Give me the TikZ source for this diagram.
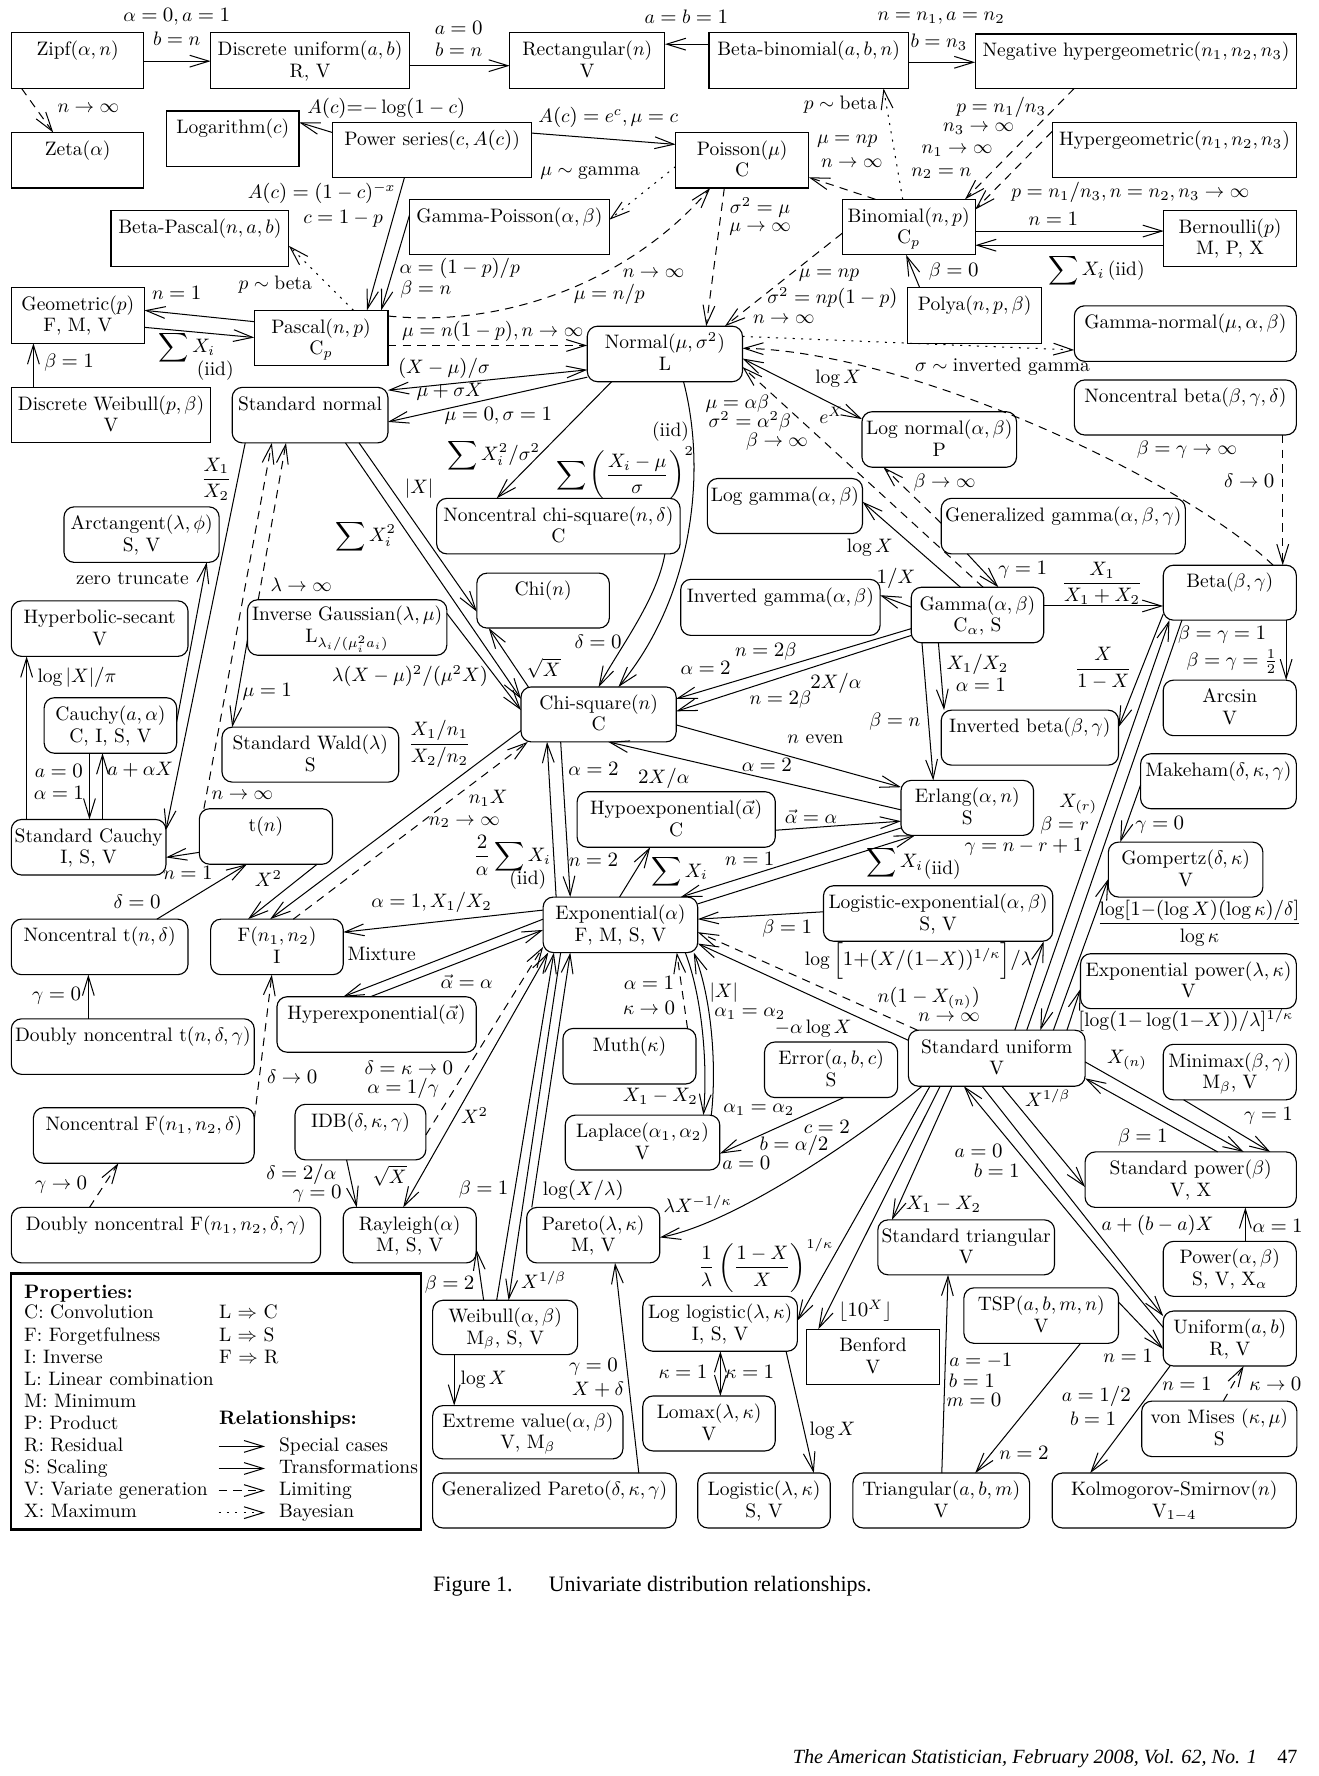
\documentclass[tikz,border=0pt]{standalone}
\usepackage{amsmath}
\usepackage{fontspec}
\setmainfont{lmroman10-regular.otf}[BoldFont=lmroman10-bold.otf,ItalicFont=lmroman10-italic.otf,Ligatures=TeX]
\newfontfamily\timesf{Liberation Serif}
\DeclareFontShape{OML}{cmm}{m}{it}{<-5.5>cmmi5<5.5-8>cmmi7<8->cmmi10}{\skewchar\font=127 }
\DeclareFontShape{OMS}{cmsy}{m}{n}{<-5.5>cmsy5<5.5-8>cmsy7<8->cmsy10}{\skewchar\font=48 }
\usetikzlibrary{arrows.meta,calc}
\newcommand\fsz{\fontsize{8.6}{9.5}\selectfont}
\newcommand\myT{\rule{0pt}{8pt}}
\newcommand\myB{\rule[-2.9pt]{0pt}{2.9pt}}
\newcommand\mybox[8]{\node[#2,anchor=north west,minimum width={(#5-#3)*0.5pt},minimum height={(#6-#4)*0.5pt}] (#1) at (#3,#4) {\myT #7\\\myB #8};}
\newcounter{labc}
\newcommand\mylab[3][]{\stepcounter{labc}\node[lbl,#1] (lab\arabic{labc}) at (#2) {#3};}
\begin{document}
\begin{tikzpicture}[x=0.5pt,y=-0.5pt,
  sq/.style={draw,line width=0.5pt,align=center,inner xsep=1pt,inner ysep=0pt,outer sep=0pt,font=\fsz},
  rd/.style={sq,rounded corners=4.5pt},
  lbl/.style={inner sep=0.5pt,font=\fsz},
  sc/.style={draw,line width=0.45pt,-{Straight Barb[length=8.5pt,width=5.2pt]}},
  dsc/.style={sc,{Straight Barb[length=8.5pt,width=5.2pt]}-{Straight Barb[length=8.5pt,width=5.2pt]}},
  lim/.style={sc,dash pattern=on 3.7pt off 2.8pt},
  bay/.style={sc,dash pattern=on 0.9pt off 2.8pt}]
\useasboundingbox (0,0) rectangle (1164,1568);
\fill[white] (0,0) rectangle (1164,1568);
% ---------------- boxes
\mybox{zipf}{sq}{10}{29}{127}{78}{Zipf($\alpha,n$)}{}
\mybox{du}{sq}{186}{29}{361.5}{78}{Discrete uniform($a,b$)}{R, V}
\mybox{rect}{sq}{450}{29}{587}{78}{Rectangular($n$)}{V}
\mybox{bbin}{sq}{626}{29}{802}{78}{Beta-binomial($a,b,n$)}{}
\mybox{nhyp}{sq}{861}{30}{1145}{78}{Negative hypergeometric($n_1,n_2,n_3$)}{}
\mybox{zeta}{sq}{10}{117}{127}{166}{Zeta($\alpha$)}{}
\mybox{loga}{sq}{147}{98}{264}{147}{Logarithm($c$)}{}
\mybox{pser}{sq}{293.5}{108}{469.5}{157}{Power series($c,A(c)$)}{}
\mybox{pois}{sq}{596.5}{117}{714}{166}{Poisson($\mu$)}{C}
\mybox{hyp}{sq}{929}{108}{1145}{157}{Hypergeometric($n_1,n_2,n_3$)}{}
\mybox{bpas}{sq}{98}{186}{255}{235}{Beta-Pascal($n,a,b$)}{}
\mybox{gpois}{sq}{361.5}{176}{538}{225}{Gamma-Poisson($\alpha,\beta$)}{}
\mybox{bin}{sq}{743.5}{176}{861}{225}{Binomial($n,p$)}{C$_p$}
\mybox{bern}{sq}{1027.5}{186}{1144.5}{235}{Bernoulli($p$)}{M, P, X}
\mybox{geom}{sq}{10}{254}{127.5}{303}{Geometric($p$)}{F, M, V}
\mybox{pasc}{sq}{224.5}{274}{342.5}{323}{Pascal($n,p$)}{C$_p$}
\mybox{polya}{sq}{801.5}{254}{919.5}{303}{Polya($n,p,\beta$)}{}
\mybox{dweib}{sq}{10}{342}{186}{391}{Discrete Weibull($p,\beta$)}{V}
\mybox{norm}{rd}{518.5}{288}{655.5}{337}{Normal($\mu,\sigma^2$)}{L}
\mybox{gnorm}{rd}{948.5}{270}{1144.5}{319}{Gamma-normal($\mu,\alpha,\beta$)}{}
\mybox{ncbeta}{rd}{948.5}{335.5}{1144.5}{384}{Noncentral beta($\beta,\gamma,\delta$)}{}
\mybox{snorm}{rd}{205}{342}{342.5}{391}{Standard normal}{}
\mybox{lnorm}{rd}{761}{363.5}{897.5}{412.5}{Log normal($\alpha,\beta$)}{P}
\mybox{ncchi}{rd}{385.5}{440}{600.5}{489}{Noncentral chi-square($n,\delta$)}{C}
\mybox{lgam}{rd}{624.5}{422.5}{761.5}{471}{Log gamma($\alpha,\beta$)}{}
\mybox{ggam}{rd}{831}{440}{1046.5}{489}{Generalized gamma($\alpha,\beta,\gamma$)}{}
\mybox{arct}{rd}{56.5}{447.5}{193.5}{496.5}{Arctangent($\lambda,\phi$)}{S, V}
\mybox{chi}{rd}{421}{506}{538}{554.5}{Chi($n$)}{}
\mybox{beta}{rd}{1027}{499}{1144.5}{547.5}{Beta($\beta,\gamma$)}{}
\mybox{igam}{rd}{601}{511.5}{777}{561}{Inverted gamma($\alpha,\beta$)}{}
\mybox{gam}{rd}{804.5}{518.5}{921.5}{567.5}{Gamma($\alpha,\beta$)}{C$_\alpha$, S}
\mybox{hsec}{rd}{10}{530.5}{166}{579.5}{Hyperbolic-secant}{V}
\mybox{igau}{rd}{218.5}{529.5}{394.5}{578.5}{Inverse Gaussian($\lambda,\mu$)}{L$_{\lambda_i/(\mu_i^2a_i)}$}
\mybox{arcs}{rd}{1027}{600.5}{1144.5}{649.5}{Arcsin}{V}
\mybox{chisq}{rd}{460}{606.5}{597}{655}{Chi-square($n$)}{C}
\mybox{cauchy}{rd}{39}{616}{156}{665}{Cauchy($a,\alpha$)}{C, I, S, V}
\mybox{ibeta}{rd}{831}{627}{987.5}{675.5}{Inverted beta($\beta,\gamma$)}{}
\mybox{swald}{rd}{196}{642}{352}{690.5}{Standard Wald($\lambda$)}{S}
\mybox{makeh}{rd}{1007}{665.5}{1144.5}{714}{Makeham($\delta,\kappa,\gamma$)}{}
\mybox{erlang}{rd}{795.5}{689}{912.5}{737.5}{Erlang($\alpha,n$)}{S}
\mybox{hypoexp}{rd}{509.5}{699}{684.5}{748}{Hypoexponential($\vec{\alpha}$)}{C}
\mybox{tdist}{rd}{176}{714}{293.5}{763}{t($n$)}{}
\mybox{scauchy}{rd}{10}{723.5}{146.5}{772.5}{Standard Cauchy}{I, S, V}
\mybox{gomp}{rd}{978.5}{743.5}{1115}{792}{Gompertz($\delta,\kappa$)}{V}
\mybox{logexp}{rd}{727}{782}{929.5}{831}{Logistic-exponential($\alpha,\beta$)}{S, V}
\mybox{expo}{rd}{479.5}{792}{616}{841}{Exponential($\alpha$)}{F, M, S, V}
\mybox{nct}{rd}{10}{811.5}{166}{860.5}{Noncentral t($n,\delta$)}{}
\mybox{fdist}{rd}{186}{811.5}{303}{860.5}{F($n_1,n_2$)}{I}
\mybox{expow}{rd}{954}{842}{1144.5}{890.5}{Exponential power($\lambda,\kappa$)}{V}
\mybox{hyperexp}{rd}{244.5}{880}{420.5}{929}{Hyperexponential($\vec{\alpha}$)}{}
\mybox{dnct}{rd}{10}{899.5}{224.5}{948.5}{Doubly noncentral t($n,\delta,\gamma$)}{}
\mybox{muth}{rd}{497}{908}{614.5}{957}{Muth($\kappa$)}{}
\mybox{sunif}{rd}{802}{909.5}{958}{959}{Standard uniform}{V}
\mybox{err}{rd}{675}{920}{792.5}{969}{Error($a,b,c$)}{S}
\mybox{minimax}{rd}{1027}{922}{1144.5}{971}{Minimax($\beta,\gamma$)}{M$_\beta$, V}
\mybox{idb}{rd}{260.5}{975}{376}{1024}{IDB($\delta,\kappa,\gamma$)}{}
\mybox{ncf}{rd}{29.5}{978}{224.5}{1027}{Noncentral F($n_1,n_2,\delta$)}{}
\mybox{lap}{rd}{499}{984.5}{635.5}{1033}{Laplace($\alpha_1,\alpha_2$)}{V}
\mybox{spow}{rd}{958}{1017}{1144.5}{1066}{Standard power($\beta$)}{V, X}
\mybox{dncf}{rd}{10}{1066}{283}{1115}{Doubly noncentral F($n_1,n_2,\delta,\gamma$)}{}
\mybox{rayl}{rd}{303}{1066}{420.5}{1115}{Rayleigh($\alpha$)}{M, S, V}
\mybox{pareto}{rd}{465}{1066}{582.5}{1115}{Pareto($\lambda,\kappa$)}{M, V}
\mybox{stri}{rd}{775}{1077}{931}{1125.5}{Standard triangular}{V}
\mybox{power}{rd}{1027}{1096}{1144.5}{1144.5}{Power($\alpha,\beta$)}{S, V, X$_\alpha$}
\mybox{tsp}{rd}{851}{1137}{987.5}{1186}{TSP($a,b,m,n$)}{V}
\mybox{llog}{rd}{567.5}{1144.5}{704}{1193}{Log logistic($\lambda,\kappa$)}{I, S, V}
\mybox{weib}{rd}{382}{1148}{510}{1196}{Weibull($\alpha,\beta$)}{M$_\beta$, S, V}
\mybox{unif}{rd}{1027}{1157.5}{1144.5}{1206}{Uniform($a,b$)}{R, V}
\mybox{benf}{sq}{712}{1173.5}{829.5}{1222.5}{Benford}{V}
\mybox{lomax}{rd}{567.5}{1232.5}{684.5}{1281}{Lomax($\lambda,\kappa$)}{V}
\mybox{vmises}{rd}{1008}{1237}{1145}{1286}{von Mises ($\kappa,\mu$)}{S}
\mybox{ev}{rd}{382}{1241}{550}{1288}{Extreme value($\alpha,\beta$)}{V, M$_\beta$}
\mybox{gpar}{rd}{382}{1300.5}{597}{1349}{Generalized Pareto($\delta,\kappa,\gamma$)}{}
\mybox{logis}{rd}{616}{1300.5}{733}{1349}{Logistic($\lambda,\kappa$)}{S, V}
\mybox{tri}{rd}{753}{1300.5}{909}{1349}{Triangular($a,b,m$)}{V}
\mybox{ks}{rd}{929}{1300.5}{1144.5}{1349}{Kolmogorov-Smirnov($n$)}{V$_{1-4}$}
% ---------------- connectors
\draw[sc] (zipf.east |- 0,54) -- (du.west |- 0,54);
\draw[lim] (zipf.south -| 19,0) -- (zeta.north -| 47,0);
\draw[sc] (du.east |- 0,58) -- (rect.west |- 0,58);
\draw[sc] (bbin.west |- 0,39) -- (rect.east |- 0,39);
\draw[sc] (bbin.east |- 0,55) -- (nhyp.west |- 0,55);
\draw[bay] (bin.north -| 797,0) -- (bbin.south -| 780,0);
\draw[sc] (pser.west |- 0,117) -- (loga.east |- 0,108);
\draw[sc] (pser.east |- 0,117.5) -- (pois.west |- 0,127.5);
\draw[sc] (pser.south -| 357,0) -- (pasc.north -| 324,0);
\draw[sc] (gpois.west |- 0,190) -- (pasc.north -| 336.5,0);
\draw[bay] (pois.west |- 0,147) -- (gpois.east |- 0,194);
\draw[lim] (bin.north -| 773,0) -- (pois.east |- 0,156.5);
\draw[lim] (pasc.east |- 0,279) .. controls (450,290) and (560,245) .. (pois.south -| 627,0);
\draw[lim] (pasc.east |- 0,305) -- (norm.west |- 0,305);
\draw[sc] (pasc.west |- 0,284) -- (geom.east |- 0,274);
\draw[sc] (geom.east |- 0,289) -- (pasc.west |- 0,298);
\draw[sc] (dweib.north -| 29.5,0) -- (geom.south -| 29.5,0);
\draw[bay] (pasc.north -| 312,0) -- (bpas.east |- 0,217);
\draw[sc] (bin.east |- 0,204) -- (bern.west |- 0,204);
\draw[sc] (bern.west |- 0,216.5) -- (bin.east |- 0,216.5);
\draw[sc] (polya.north -| 812,0) -- (bin.south -| 800,0);
\draw[lim] (nhyp.south -| 948.5,0) -- (bin.north -| 852,0);
\draw[lim] (hyp.west |- 0,116) -- (bin.east |- 0,185);
\draw[lim] (bin.west |- 0,206) -- (norm.north -| 640,0);
\draw[lim] (pois.south -| 639.5,0) -- (norm.north -| 623.5,0);
\draw[bay] (norm.east |- 0,297) -- (gnorm.west |- 0,309);
\draw[lim] (beta.north -| 1124,0) .. controls (1040,420) and (800,310) .. (norm.east |- 0,307.5);
\draw[lim] (ncbeta.south -| 1132.5,0) -- (beta.north -| 1132.5,0);
\draw[dsc] (norm.east |- 0,316.5) -- (lnorm.west |- 0,370);
\draw[lim] (gam.north -| 868,0) -- (norm.east |- 0,324);
\draw[lim] (ggam.west |- 0,462) -- (lnorm.south -| 780,0);
\draw[sc] (ggam.south -| 854,0) -- (gam.north -| 881.5,0);
\draw[sc] (gam.north -| 848,0) -- (lgam.east |- 0,443);
\draw[sc] (gam.west |- 0,536) -- (igam.east |- 0,525.5);
\draw[sc] (gam.east |- 0,535) -- (beta.west |- 0,535);
\draw[sc] (gam.south -| 828.5,0) -- (ibeta.north -| 833.5,0);
\draw[sc] (gam.south -| 814,0) -- (erlang.north -| 824,0);
\draw[sc] (gam.west |- 0,555) -- (chisq.east |- 0,617);
\draw[sc] (gam.west |- 0,561) -- (chisq.east |- 0,628);
\draw[sc] (chisq.east |- 0,640) -- (erlang.west |- 0,695);
\draw[sc] (erlang.west |- 0,715) -- (chisq.south -| 537,0);
\draw[sc] (hypoexp.east |- 0,733) -- (erlang.west |- 0,725);
\draw[sc] (expo.east |- 0,798) -- (erlang.south -| 808,0);
\draw[sc] (erlang.west |- 0,731) -- (expo.north -| 601,0);
\draw[sc] (expo.north -| 547,0) -- (hypoexp.south -| 574,0);
\draw[sc] (expo.north -| 491,0) -- (chisq.south -| 483,0);
\draw[sc] (chisq.south -| 495,0) -- (expo.north -| 503.5,0);
\draw[sc] (chisq.west |- 0,645) -- (fdist.north -| 238.5,0);
\draw[lim] (fdist.north -| 259,0) -- (chisq.south -| 466,0);
\draw[sc] (tdist.south -| 280,0) -- (fdist.north -| 219,0);
\draw[dsc] (snorm.east |- 0,344.5) -- (norm.west |- 0,326.5);
\draw[sc] (norm.west |- 0,333) -- (snorm.east |- 0,372.5);
\draw[sc] (norm.south -| 540,0) -- (ncchi.north -| 438.5,0);
\draw[sc] (norm.south -| 603.5,0) .. controls (625,420) and (610,530) .. (chisq.north -| 546,0);
\draw[sc] (ncchi.south -| 587,0) .. controls (580,530) and (545,575) .. (chisq.north -| 528.5,0);
\draw[sc] (chisq.north -| 466.5,0) -- (chi.south -| 431.5,0);
\draw[sc] (snorm.south -| 317,0) -- (chi.west |- 0,540);
\draw[sc] (snorm.south -| 305,0) -- (chisq.west |- 0,617);
\draw[sc] (igau.east |- 0,541.5) -- (chisq.west |- 0,627);
\draw[sc] (igau.west |- 0,565) -- (swald.north -| 205,0);
\draw[lim] (tdist.north -| 180,0) -- (snorm.south -| 240,0);
\draw[lim] (igau.north -| 228,0) -- (snorm.south -| 252.5,0);
\draw[sc] (snorm.south -| 216.5,0) -- (scauchy.east |- 0,733);
\draw[sc] (cauchy.east |- 0,637) -- (arct.south -| 182.5,0);
\draw[sc] (scauchy.north -| 23.5,0) -- (hsec.south -| 23.5,0);
\draw[sc] (cauchy.south -| 79,0) -- (scauchy.north -| 79,0);
\draw[sc] (scauchy.north -| 90.5,0) -- (cauchy.south -| 90.5,0);
\draw[sc] (tdist.west |- 0,752.5) -- (scauchy.east |- 0,757);
\draw[sc] (nct.north -| 138.5,0) -- (tdist.south -| 218,0);
\draw[sc] (dnct.north -| 78,0) -- (nct.south -| 78,0);
\draw[lim] (ncf.east |- 0,988) -- (fdist.south -| 240,0);
\draw[lim] (dncf.north -| 79,0) -- (ncf.south -| 104.5,0);
\draw[sc] (expo.west |- 0,803.5) -- (fdist.east |- 0,823);
\draw[sc] (expo.west |- 0,811.5) -- (hyperexp.north -| 303,0);
\draw[sc] (hyperexp.north -| 327,0) -- (expo.west |- 0,821);
\draw[lim] (idb.east |- 0,1002) -- (expo.west |- 0,836);
\draw[dsc] (rayl.north -| 356,0) -- (expo.south -| 484,0);
\draw[sc] (weib.north -| 438.5,0) -- (expo.south -| 489,0);
\draw[sc] (expo.south -| 495,0) -- (weib.north -| 449,0);
\draw[sc] (pareto.north -| 469.5,0) -- (expo.south -| 503.5,0);
\draw[sc] (weib.north -| 427,0) -- (rayl.east |- 0,1103);
\draw[sc] (idb.south -| 306,0) -- (rayl.north -| 315,0);
\draw[lim] (muth.north -| 607,0) -- (expo.south -| 597.5,0);
\draw[sc] (expo.south -| 605,0) .. controls (620,880) and (625,940) .. (lap.north -| 621,0);
\draw[sc] (lap.north -| 628,0) .. controls (633,940) and (628,880) .. (expo.south -| 612.5,0);
\draw[sc] (err.south -| 745,0) -- (lap.east |- 0,1018.5);
\draw[sc] (sunif.west |- 0,918.5) -- (expo.east |- 0,833);
\draw[lim] (sunif.north -| 810,0) -- (expo.east |- 0,823);
\draw[sc] (logexp.west |- 0,805) -- (expo.east |- 0,811.5);
\draw[sc] (sunif.north -| 896,0) -- (logexp.south -| 921.5,0);
\draw[sc] (sunif.north -| 906.5,0) -- (beta.south -| 1032.5,0);
\draw[sc] (beta.south -| 1043.5,0) -- (sunif.north -| 918.5,0);
\draw[sc] (sunif.north -| 930,0) -- (gomp.west |- 0,776);
\draw[sc] (sunif.north -| 942,0) -- (expow.west |- 0,873);
\draw[sc] (beta.west |- 0,542) -- (ibeta.east |- 0,642);
\draw[sc] (beta.south -| 1135.5,0) -- (arcs.north -| 1135.5,0);
\draw[sc] (makeh.west |- 0,693) -- (gomp.north -| 989,0);
\draw[sc] (sunif.east |- 0,937.5) -- (spow.north -| 1098,0);
\draw[sc] (spow.north -| 1075,0) -- (sunif.east |- 0,952);
\draw[sc] (minimax.south -| 1045,0) -- (spow.north -| 1121.5,0);
\draw[sc] (sunif.south -| 884.5,0) -- (spow.west |- 0,1048);
\draw[sc] (unif.west |- 0,1172) -- (sunif.south -| 851,0);
\draw[sc] (sunif.south -| 867,0) -- (unif.west |- 0,1162);
\draw[sc] (power.north -| 1099.5,0) -- (spow.south -| 1099.5,0);
\draw[sc] (tsp.east |- 0,1149.5) -- (unif.west |- 0,1191);
\draw[sc] (tsp.south -| 954,0) -- (tri.north -| 861,0);
\draw[sc] (tri.north -| 831.5,0) -- (stri.south -| 837,0);
\draw[sc] (sunif.south -| 840.5,0) -- (stri.north -| 787.5,0);
\draw[sc] (unif.south -| 1033,0) -- (ks.north -| 962.5,0);
\draw[lim] (vmises.north -| 1080,0) -- (unif.south -| 1098,0);
\draw[sc] (sunif.south -| 821,0) -- (llog.east |- 0,1166);
\draw[sc] (sunif.south -| 830,0) -- (benf.north -| 722.5,0);
\draw[sc] (sunif.south -| 814,0) .. controls (765,1000) and (650,1080) .. (pareto.east |- 0,1092.5);
\draw[dsc] (llog.south -| 636,0) -- (lomax.north -| 636,0);
\draw[sc] (llog.south -| 694,0) -- (logis.north -| 718.5,0);
\draw[sc] (weib.south -| 401,0) -- (ev.north -| 401,0);
\draw[sc] (gpar.north -| 564,0) -- (pareto.south -| 543,0);
% ---------------- labels
\mylab{156,15}{$\alpha=0,a=1$}
\mylab{156,34}{$b=n$}
\mylab{405,25}{$a=0$}
\mylab{405,44}{$b=n$}
\mylab{606,15}{$a=b=1$}
\mylab{831,16}{$n=n_1,a=n_2$}
\mylab{829,37}{$b=n_3$}
\mylab{78,96}{$n\to\infty$}
\mylab{341,96}{$A(c){=}{-}\log(1-c)$}
\mylab{537,104}{$A(c)=e^c,\mu=c$}
\mylab{742,92}{$p\sim{}$beta}
\mylab{884,95}{$p=n_1/n_3$}
\mylab{864,114}{$n_3\to\infty$}
\mylab{845,133}{$n_1\to\infty$}
\mylab{831,153}{$n_2=n$}
\mylab{748,125}{$\mu=np$}
\mylab{752,144}{$n\to\infty$}
\mylab{521,153}{$\mu\sim{}$gamma}
\mylab{284,171}{$A(c)=(1-c)^{-x}$}
\mylab{303,193}{$c=1-p$}
\mylab{998,170}{$p=n_1/n_3,n=n_2,n_3\to\infty$}
\mylab{671,183}{$\sigma^2=\mu$}
\mylab{671,202}{$\mu\to\infty$}
\mylab{930,193}{$n=1$}
\mylab{968,239}{$\displaystyle\sum X_i\,$(iid)}
\mylab{842,240}{$\beta=0$}
\mylab{406,237}{$\alpha=(1-p)/p$}
\mylab{376,256}{$\beta=n$}
\mylab{577,241}{$n\to\infty$}
\mylab{538,260}{$\mu=n/p$}
\mylab{732,243}{$\mu=np$}
\mylab{735,263}{$\sigma^2=np(1-p)$}
\mylab{692,282}{$n\to\infty$}
\mylab{156,259}{$n=1$}
\mylab{243,251}{$p\sim{}$beta}
\mylab{435,293}{$\mu=n(1-p),n\to\infty$}
\mylab{165,307}{$\displaystyle\sum X_i$}
\mylab{190,327}{(iid)}
\mylab{61,320}{$\beta=1$}
\mylab{392,325}{$(X-\mu)/\sigma$}
\mylab{397,346}{$\mu+\sigma X$}
\mylab{885,324}{$\sigma\sim{}$inverted gamma}
\mylab{740,334}{$\log X$}
\mylab{440,367}{$\mu=0,\sigma=1$}
\mylab{651,356}{$\mu=\alpha\beta$}
\mylab{662,372}{$\sigma^2=\alpha^2\beta$}
\mylab{686,390}{$\beta\to\infty$}
\mylab{734,367}{$e^X$}
\mylab{592,381}{(iid)}
\mylab{436,402}{$\displaystyle\sum X_i^2/\sigma^2$}
\mylab{1048,397}{$\beta=\gamma\to\infty$}
\mylab{191,423}{$\displaystyle\frac{X_1}{X_2}$}
\mylab{370,431}{$|X|$}
\mylab{552,418}{$\displaystyle\sum\left(\frac{X_i-\mu}{\sigma}\right)^2$}
\mylab{1103,424}{$\delta\to0$}
\mylab{834,426}{$\beta\to\infty$}
\mylab{323,474}{$\displaystyle\sum X_i^2$}
\mylab{768,484}{$\log X$}
\mylab{903,503}{$\gamma=1$}
\mylab{973,515}{$\displaystyle\frac{X_1}{X_1+X_2}$}
\mylab{791,511}{$1/X$}
\mylab{117,511}{zero truncate}
\mylab{266,516}{$\lambda\to\infty$}
\mylab{528,567}{$\delta=0$}
\mylab{1079,560}{$\beta=\gamma=1$}
\mylab{480,590}{$\sqrt{X}$}
\mylab{676,575}{$n=2\beta$}
\mylab{623,590}{$\alpha=2$}
\mylab{863,587}{$X_1/X_2$}
\mylab{866,605}{$\alpha=1$}
\mylab{974,590}{$\displaystyle\frac{X}{1-X}$}
\mylab{1088,584}{$\beta=\gamma=\frac12$}
\mylab{68,598}{$\log|X|/\pi$}
\mylab{738,603}{$2X/\alpha$}
\mylab{689,618}{$n=2\beta$}
\mylab{362,597}{$\lambda(X-\mu)^2/(\mu^2X)$}
\mylab{790,637}{$\beta=n$}
\mylab{236,611}{$\mu=1$}
\mylab{388,657}{$\displaystyle\frac{X_1/n_1}{X_2/n_2}$}
\mylab{720,653}{$n$ even}
\mylab{52,681}{$a=0$}
\mylab{52,700}{$\alpha=1$}
\mylab{124,680}{$a+\alpha X$}
\mylab{677,675}{$\alpha=2$}
\mylab{524,679}{$\alpha=2$}
\mylab{586,687}{$2X/\alpha$}
\mylab{952,710}{$X_{(r)}$}
\mylab{940,729}{$\beta=r$}
\mylab{904,748}{$\gamma=n-r+1$}
\mylab{1024,728}{$\gamma=0$}
\mylab{214,702}{$n\to\infty$}
\mylab{431,705}{$n_1X$}
\mylab{410,726}{$n_2\to\infty$}
\mylab{716,721}{$\vec{\alpha}=\alpha$}
\mylab{452,755}{$\displaystyle\frac{2}{\alpha}\sum X_i$}
\mylab{466,777}{(iid)}
\mylab{600,770}{$\displaystyle\sum X_i$}
\mylab{662,758}{$n=1$}
\mylab{524,759}{$n=2$}
\mylab{790,762}{$\displaystyle\sum X_i$}
\mylab{832,768}{(iid)}
\mylab{166,771}{$n=1$}
\mylab{237,776}{$X^2$}
\mylab{121,796}{$\delta=0$}
\mylab{381,797}{$\alpha=1,X_1/X_2$}
\mylab{337,842}{Mixture}
\mylab{811,848}{$\log\Big[1{+}(X/(1{-}X))^{1/\kappa}\Big]/\lambda$}
\mylab{695,820}{$\beta=1$}
\mylab{1059,815}{$\displaystyle\frac{\log[1{-}(\log X)(\log\kappa)/\delta]}{\log\kappa}$}
\mylab{573,868}{$\alpha=1$}
\mylab{573,890}{$\kappa\to0$}
\mylab{639,876}{$|X|$}
\mylab{662,895}{$\alpha_1=\alpha_2$}
\mylab{820,881}{$n(1-X_{(n)})$}
\mylab{838,898}{$n\to\infty$}
\mylab{412,867}{$\vec{\alpha}=\alpha$}
\mylab{50,879}{$\gamma=0$}
\mylab{1047,901}{$[\log(1{-}\log(1{-}X))/\lambda]^{1/\kappa}$}
\mylab{718,908}{$-\alpha\log X$}
\mylab{995,936}{$X_{(n)}$}
\mylab{258,951}{$\delta\to0$}
\mylab{361,943}{$\delta=\kappa\to0$}
\mylab{356,961}{$\alpha=1/\gamma$}
\mylab{583,968}{$X_1-X_2$}
\mylab{925,969}{$X^{1/\beta}$}
\mylab{670,980}{$\alpha_1=\alpha_2$}
\mylab{419,985}{$X^2$}
\mylab{1120,985}{$\gamma=1$}
\mylab{730,995}{$c=2$}
\mylab{701,1011}{$b=\alpha/2$}
\mylab{659,1027}{$a=0$}
\mylab{1009,1004}{$\beta=1$}
\mylab{864,1016}{$a=0$}
\mylab{880,1034}{$b=1$}
\mylab{266,1037}{$\delta=2/\alpha$}
\mylab{280,1054}{$\gamma=0$}
\mylab{344,1038}{$\sqrt{X}$}
\mylab{54,1046}{$\gamma\to0$}
\mylab{427,1050}{$\beta=1$}
\mylab{515,1051}{$\log(X/\lambda)$}
\mylab{833,1063}{$X_1-X_2$}
\mylab{616,1063}{$\lambda X^{-1/\kappa}$}
\mylab{1022,1082}{$a+(b-a)X$}
\mylab{1128,1082}{$\alpha=1$}
\mylab{676,1117}{$\displaystyle\frac{1}{\lambda}\left(\frac{1-X}{X}\right)^{1/\kappa}$}
\mylab{480,1130}{$X^{1/\beta}$}
\mylab{397,1134}{$\beta=2$}
\mylab{764,1157}{$\lfloor 10^X\rfloor$}
\mylab{866,1201}{$a=-1$}
\mylab{858,1219}{$b=1$}
\mylab{860,1236}{$m=0$}
\mylab{996,1197}{$n=1$}
\mylab{524,1207}{$\gamma=0$}
\mylab{528,1227}{$X+\delta$}
\mylab{603,1211}{$\kappa=1$}
\mylab{662,1211}{$\kappa=1$}
\mylab{427,1218}{$\log X$}
\mylab{1048,1222}{$n=1$}
\mylab{1126,1222}{$\kappa\to0$}
\mylab{968,1233}{$a=1/2$}
\mylab{965,1253}{$b=1$}
\mylab{735,1263}{$\log X$}
\mylab{904,1283}{$n=2$}
% ---------------- legend
\node[draw,line width=1.2pt,anchor=north west,minimum width={362*0.5pt},minimum height={226*0.5pt},inner sep=0pt,outer sep=0pt] (legend) at (9.7,1124.5) {};
\mylab[anchor=base west]{20,1146}{\textbf{Properties:}}
\mylab[anchor=base west]{20,1164}{C: Convolution}
\mylab[anchor=base west]{20,1184}{F: Forgetfulness}
\mylab[anchor=base west]{20,1203.5}{I: Inverse}
\mylab[anchor=base west]{20,1223}{L: Linear combination}
\mylab[anchor=base west]{20,1242.5}{M: Minimum}
\mylab[anchor=base west]{20,1262}{P: Product}
\mylab[anchor=base west]{20,1281.5}{R: Residual}
\mylab[anchor=base west]{20,1301}{S: Scaling}
\mylab[anchor=base west]{20,1320.5}{V: Variate generation}
\mylab[anchor=base west]{20,1340}{X: Maximum}
\mylab[anchor=base west]{192,1164}{L $\Rightarrow$ C}
\mylab[anchor=base west]{192,1184}{L $\Rightarrow$ S}
\mylab[anchor=base west]{192,1203.5}{F $\Rightarrow$ R}
\mylab[anchor=base west]{192,1257.5}{\textbf{Relationships:}}
\mylab[anchor=base west]{245,1281.5}{Special cases}
\mylab[anchor=base west]{245,1301}{Transformations}
\mylab[anchor=base west]{245,1320.5}{Limiting}
\mylab[anchor=base west]{245,1340}{Bayesian}
\coordinate (la1) at (193,1277); \coordinate (lb1) at (234,1277);
\coordinate (la2) at (193,1296.5); \coordinate (lb2) at (234,1296.5);
\coordinate (la3) at (193,1316); \coordinate (lb3) at (234,1316);
\coordinate (la4) at (193,1335.5); \coordinate (lb4) at (234,1335.5);
\draw[sc] (la1) -- (lb1);
\draw[sc] (la2) -- (lb2);
\draw[lim] (la3) -- (lb3);
\draw[bay] (la4) -- (lb4);
% ---------------- caption and footer
\node[font=\timesf\fontsize{9.7}{11}\selectfont,anchor=base,inner sep=0pt] (caption) at (576,1405) {Figure 1.\hspace{16pt}Univariate distribution relationships.};
\node[font=\timesf\fontsize{8.9}{11}\selectfont,anchor=base east,inner sep=0pt] (footer) at (1146,1557) {\itshape The American Statistician, February 2008, Vol. 62, No. 1\hspace{9pt}\upshape 47};
\end{tikzpicture}
\end{document}
